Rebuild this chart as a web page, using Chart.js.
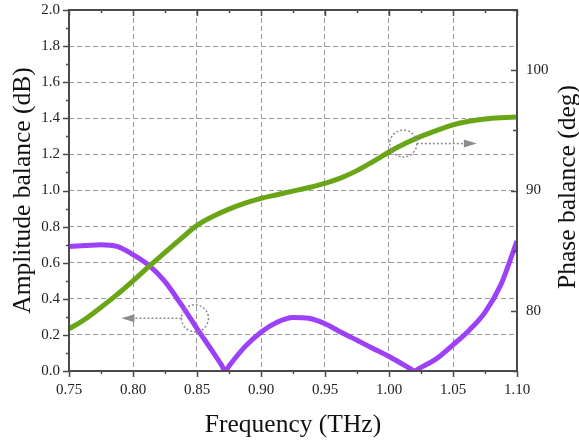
<!DOCTYPE html>
<html>
<head>
<meta charset="utf-8">
<script src="https://cdn.jsdelivr.net/npm/chart.js@4.4.1/dist/chart.umd.min.js"></script>
<style>
  html, body { margin: 0; padding: 0; background: #fff; }
  #wrap { width: 579px; height: 441px; }
</style>
</head>
<body>
<div id="wrap"><canvas id="chart" width="579" height="441"></canvas></div>
<script>
// phase balance (green, right axis, deg)
const phaseFreq = [0.75, 0.7625, 0.775, 0.7875, 0.80, 0.8125, 0.825, 0.8375, 0.85, 0.8625,
  0.875, 0.8875, 0.90, 0.9125, 0.925, 0.9375, 0.95, 0.9625, 0.975, 0.9875,
  1.00, 1.0125, 1.025, 1.0375, 1.05, 1.0625, 1.075, 1.0875, 1.10];
const phaseVals = [78.5, 79.3, 80.3, 81.35, 82.5, 83.7, 84.85, 86.0, 87.1, 87.85,
  88.45, 88.95, 89.35, 89.65, 89.95, 90.25, 90.6, 91.05, 91.65, 92.4,
  93.2, 93.9, 94.5, 95.0, 95.45, 95.75, 95.95, 96.05, 96.1];

// amplitude balance (purple, left axis, dB)
const ampFreq = [0.75, 0.7625, 0.775, 0.7875, 0.80, 0.8125, 0.825, 0.8375, 0.85, 0.8625,
  0.869, 0.872, 0.875, 0.8875, 0.90, 0.9125, 0.925, 0.9375, 0.95, 0.9625, 0.975, 0.9875,
  1.00, 1.0125, 1.017, 1.02, 1.023, 1.0375, 1.05, 1.0625, 1.075, 1.0875, 1.10];
const ampVals = [0.69, 0.695, 0.70, 0.69, 0.645, 0.585, 0.495, 0.37, 0.235, 0.105,
  0.035, 0.0, 0.028, 0.135, 0.215, 0.27, 0.297, 0.292, 0.262, 0.215, 0.17, 0.125,
  0.08, 0.03, 0.012, 0.0, 0.012, 0.07, 0.145, 0.225, 0.325, 0.48, 0.72];

// dotted circles + arrows pointing to the matching axis
const markers = [
  { x: 0.8484, y: 0.292, axis: 'y', dir: -1 },
  { x: 1.0112, y: 93.9, axis: 'y2', dir: 1 }
];

const FONT = "'Liberation Serif', 'DejaVu Serif', serif";
const AXIS = '#4a4a4a';

const toPts = (xs, ys) => xs.map((x, i) => ({ x: x, y: ys[i] }));

// keep the plot box fixed, labels may hang over the padding
const fix = size => s => {
  if (s.isHorizontal()) s.height = size; else s.width = size;
  s.paddingTop = 0; s.paddingBottom = 0; s.paddingLeft = 0; s.paddingRight = 0;
};

const frame = {
  id: 'frame',
  afterDatasetsDraw(chart) {
    const c = chart.ctx, a = chart.chartArea;
    const sx = chart.scales.x, sy = chart.scales.y, sy2 = chart.scales.y2;
    c.save();
    // markers
    c.strokeStyle = '#8c8c8c';
    c.fillStyle = '#8c8c8c';
    c.lineWidth = 1.5;
    markers.forEach(m => {
      const px = sx.getPixelForValue(m.x);
      const py = chart.scales[m.axis].getPixelForValue(m.y);
      const r = 13.5;
      c.setLineDash([2, 2]);
      c.beginPath();
      c.arc(px, py, r, 0, Math.PI * 2);
      c.stroke();
      const x0 = px + m.dir * r;
      const x1 = px + m.dir * (r + 47);
      c.beginPath();
      c.moveTo(x0, py);
      c.lineTo(x1, py);
      c.stroke();
      c.setLineDash([]);
      c.beginPath();
      c.moveTo(x1 + m.dir * 13, py);
      c.lineTo(x1, py - 4);
      c.lineTo(x1, py + 4);
      c.closePath();
      c.fill();
    });
    // box + ticks
    c.strokeStyle = AXIS;
    c.lineWidth = 2;
    c.strokeRect(a.left, a.top, a.right - a.left, a.bottom - a.top);
    c.lineWidth = 1.5;
    c.beginPath();
    for (let i = 0; i <= 14; i++) {
      const px = Math.round(sx.getPixelForValue(0.75 + i * 0.025)) + 0.5;
      const len = i % 2 === 0 ? 6 : 3;
      c.moveTo(px, a.bottom); c.lineTo(px, a.bottom + len);
      c.moveTo(px, a.top); c.lineTo(px, a.top + len);
    }
    for (let i = 0; i <= 20; i++) {
      const py = Math.round(sy.getPixelForValue(i * 0.1)) + 0.5;
      const len = i % 2 === 0 ? 6 : 3;
      c.moveTo(a.left, py); c.lineTo(a.left - len, py);
    }
    for (let v = 75; v <= 105; v += 5) {
      const py = Math.round(sy2.getPixelForValue(v)) + 0.5;
      const len = v % 10 === 0 ? 6 : 4;
      c.moveTo(a.right, py); c.lineTo(a.right - len, py);
    }
    c.stroke();
    // right title, reading bottom to top
    c.fillStyle = '#111';
    c.font = '25.5px ' + FONT;
    c.textAlign = 'center';
    c.textBaseline = 'middle';
    c.translate(568, 187);
    c.rotate(-Math.PI / 2);
    c.fillText('Phase balance (deg)', 0, 0);
    c.restore();
  }
};

new Chart(document.getElementById('chart'), {
  type: 'line',
  data: {
    datasets: [
      {
        label: 'Phase balance',
        data: toPts(phaseFreq, phaseVals),
        yAxisID: 'y2',
        borderColor: '#6aa517',
        borderWidth: 5,
        pointRadius: 0,
        cubicInterpolationMode: 'monotone',
        fill: false
      },
      {
        label: 'Amplitude balance',
        data: toPts(ampFreq, ampVals),
        yAxisID: 'y',
        borderColor: '#9c41f7',
        borderWidth: 5,
        pointRadius: 0,
        cubicInterpolationMode: 'monotone',
        fill: false
      }
    ]
  },
  options: {
    responsive: false,
    animation: false,
    layout: { padding: { top: 10, left: 0, right: 0, bottom: 0 } },
    plugins: { legend: { display: false }, tooltip: { enabled: false } },
    scales: {
      x: {
        type: 'linear',
        min: 0.75,
        max: 1.10,
        afterFit: fix(70),
        ticks: {
          stepSize: 0.05,
          padding: 10,
          color: '#222',
          font: { family: FONT, size: 15 },
          callback: v => v.toFixed(2)
        },
        grid: { color: '#9a9a9a', lineWidth: 1, drawTicks: false },
        border: { display: false, dash: [5, 3] },
        title: {
          display: true,
          text: 'Frequency (THz)',
          color: '#111',
          font: { family: FONT, size: 25.5 },
          padding: { top: 0, bottom: 0 }
        }
      },
      y: {
        position: 'left',
        min: 0,
        max: 2.0,
        afterFit: fix(69),
        ticks: {
          stepSize: 0.2,
          padding: 9,
          color: '#222',
          font: { family: FONT, size: 15 },
          callback: v => v.toFixed(1)
        },
        grid: { color: '#9a9a9a', lineWidth: 1, drawTicks: false },
        border: { display: false, dash: [5, 3] },
        title: {
          display: true,
          text: 'Amplitude balance (dB)',
          color: '#111',
          font: { family: FONT, size: 25.5 },
          padding: { top: 8, bottom: 0 }
        }
      },
      y2: {
        position: 'right',
        min: 75,
        max: 105,
        afterFit: fix(62),
        afterBuildTicks: s => { s.ticks = s.ticks.filter(t => t.value % 10 === 0); },
        ticks: {
          stepSize: 5,
          padding: 9,
          color: '#222',
          font: { family: FONT, size: 15 }
        },
        grid: { drawOnChartArea: false, drawTicks: false },
        border: { display: false }
      }
    }
  },
  plugins: [frame]
});
</script>
</body>
</html>
